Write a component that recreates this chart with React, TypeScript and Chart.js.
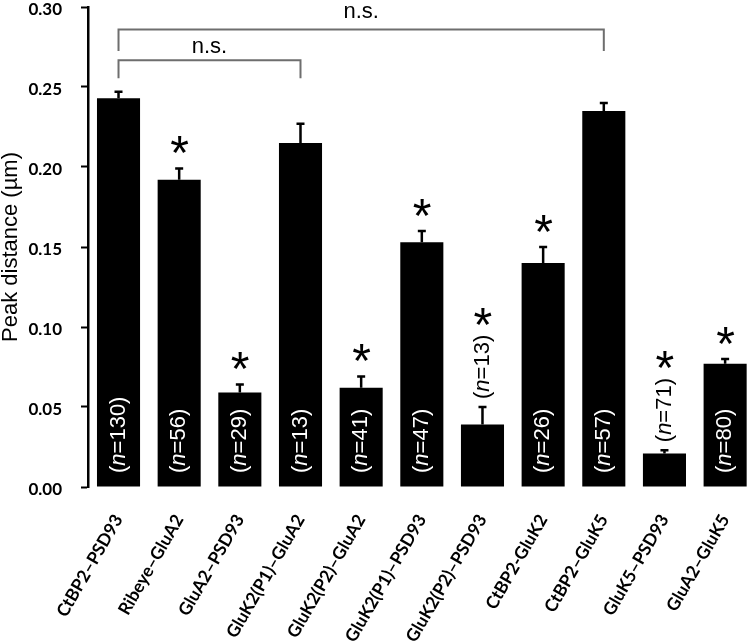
import React, { useEffect, useRef } from "react";
import { Chart, registerables } from "chart.js";

Chart.register(...registerables);

const categories = [
  "CtBP2–PSD93",
  "Ribeye–GluA2",
  "GluA2–PSD93",
  "GluK2(P1)–GluA2",
  "GluK2(P2)–GluA2",
  "GluK2(P1)–PSD93",
  "GluK2(P2)–PSD93",
  "CtBP2-GluK2",
  "CtBP2–GluK5",
  "GluK5–PSD93",
  "GluA2–GluK5",
];
const means = [0.243, 0.192, 0.059, 0.215, 0.062, 0.153, 0.039, 0.14, 0.235, 0.021, 0.077];
const errors = [0.004, 0.007, 0.005, 0.012, 0.007, 0.007, 0.011, 0.01, 0.005, 0.002, 0.003];
const sampleSizes = [130, 56, 29, 13, 41, 47, 13, 26, 57, 71, 80];
const significant = [false, true, true, false, true, true, true, true, false, true, true];
const yTicks = [0, 0.05, 0.1, 0.15, 0.2, 0.25, 0.3];
const bracketFrom = [0, 0];
const bracketTo = [8, 3];
const bracketLevel = [0.286, 0.2667];
const bracketLegEnd = [0.2725, 0.2554];
const bracketTextLevel = [0.2929, 0.2711];
const bracketText = ["n.s.", "n.s."];

const nFont = "22px 'Liberation Sans', Arial, sans-serif";
const nFontItalic = "italic 22px 'Liberation Sans', Arial, sans-serif";

const annotations = {
  id: "annotations",
  afterDatasetsDraw(chart: any) {
    const ctx = chart.ctx as CanvasRenderingContext2D;
    const xs = chart.scales.x;
    const ys = chart.scales.y;
    ctx.save();
    // error bars
    ctx.strokeStyle = "#000";
    ctx.lineWidth = 2.5;
    ctx.lineCap = "butt";
    means.forEach((m, i) => {
      const cx = xs.getPixelForValue(i);
      const y0 = ys.getPixelForValue(m);
      const y1 = ys.getPixelForValue(m + errors[i]);
      ctx.beginPath();
      ctx.moveTo(cx, y0);
      ctx.lineTo(cx, y1);
      ctx.moveTo(cx - 4, y1);
      ctx.lineTo(cx + 4, y1);
      ctx.stroke();
    });

    // n labels and asterisks
    means.forEach((m, i) => {
      const cx = xs.getPixelForValue(i);
      const base = ys.getPixelForValue(0);
      const top = ys.getPixelForValue(m);
      const errTop = ys.getPixelForValue(m + errors[i]);
      const parts: [string, string][] = [
        ["(", nFont],
        ["n", nFontItalic],
        ["=" + sampleSizes[i] + ")", nFont],
      ];
      let w = 0;
      const widths = parts.map(([t, f]) => {
        ctx.font = f;
        const ww = ctx.measureText(t).width;
        w += ww;
        return ww;
      });
      const inside = base - top >= w + 22;
      const start = inside ? base - 14 : errTop - 8;
      ctx.save();
      ctx.translate(cx, start);
      ctx.rotate(-Math.PI / 2);
      ctx.textBaseline = "middle";
      ctx.textAlign = "left";
      ctx.fillStyle = inside ? "#fff" : "#000";
      let px = 0;
      parts.forEach(([t, f], k) => {
        ctx.font = f;
        ctx.fillText(t, px, 0);
        px += widths[k];
      });
      ctx.restore();

      if (significant[i]) {
        const cy = inside ? errTop - 24 : start - w - 18;
        ctx.font = "48px 'Liberation Sans', Arial, sans-serif";
        ctx.fillStyle = "#000";
        ctx.textAlign = "left";
        ctx.textBaseline = "alphabetic";
        const mt = ctx.measureText("*");
        const x0 = cx - (mt.actualBoundingBoxRight - mt.actualBoundingBoxLeft) / 2;
        const y0 = cy + (mt.actualBoundingBoxAscent - mt.actualBoundingBoxDescent) / 2;
        ctx.fillText("*", x0, y0);
      }
    });

    // brackets
    ctx.strokeStyle = "#6e6e6e";
    ctx.lineWidth = 2;
    bracketFrom.forEach((f, k) => {
      const xa = xs.getPixelForValue(f);
      const xb = xs.getPixelForValue(bracketTo[k]);
      const yl = ys.getPixelForValue(bracketLevel[k]);
      const ye = ys.getPixelForValue(bracketLegEnd[k]);
      ctx.beginPath();
      ctx.moveTo(xa, ye);
      ctx.lineTo(xa, yl);
      ctx.lineTo(xb, yl);
      ctx.lineTo(xb, ye);
      ctx.stroke();
      ctx.font = "22px 'Liberation Sans', Arial, sans-serif";
      ctx.fillStyle = "#000";
      ctx.textAlign = "center";
      ctx.textBaseline = "alphabetic";
      ctx.fillText(bracketText[k], (xa + xb) / 2, ys.getPixelForValue(bracketTextLevel[k]));
    });
    ctx.restore();
  },
};

export default function App() {
  const ref = useRef<HTMLCanvasElement | null>(null);
  useEffect(() => {
    if (!ref.current) return;
    const xFont = { family: "Lato, 'Open Sans', sans-serif", weight: "bold" as const, size: 17.5 };
    const yFont = { family: "Lato, 'Open Sans', sans-serif", weight: "bold" as const, size: 17 };
    const chart = new Chart(ref.current, {
      type: "bar",
      data: {
        datasets: [
          {
            data: means.map((v, i) => ({ x: i, y: v })),
            backgroundColor: "#000",
            borderWidth: 0,
            barPercentage: 0.71,
            categoryPercentage: 1,
          },
        ],
      },
      options: {
        animation: false,
        responsive: false,
        layout: { padding: { top: 7, left: 0, right: 0, bottom: 0 } },
        plugins: { legend: { display: false }, tooltip: { enabled: false } },
        scales: {
          x: {
            type: "linear",
            min: -0.503,
            max: 10.41,
            offset: false,
            grid: { display: false },
            border: { display: false },
            afterBuildTicks: (s: any) => {
              s.ticks = categories.map((_, i) => ({ value: i }));
            },
            afterFit: (s: any) => {
              s.height = 156;
              s.paddingLeft = 0;
              s.paddingRight = 0;
            },
            ticks: {
              callback: (v: any) => categories[Math.round(Number(v))] ?? "",
              minRotation: 60,
              maxRotation: 60,
              autoSkip: false,
              padding: 16,
              color: "#000",
              font: xFont,
            },
          },
          y: {
            min: 0,
            max: 0.3,
            afterBuildTicks: (s: any) => {
              s.ticks = yTicks.map((v) => ({ value: v }));
            },
            afterFit: (s: any) => {
              s.width = 88;
              s.paddingTop = 0;
              s.paddingBottom = 0;
            },
            grid: {
              display: true,
              drawOnChartArea: false,
              drawTicks: true,
              tickLength: 7,
              tickWidth: 2,
              tickColor: "#000",
            },
            border: { display: true, color: "#000", width: 2.5 },
            ticks: {
              padding: 19,
              labelOffset: 3,
              color: "#000",
              font: yFont,
              callback: (v: any) => Number(v).toFixed(2),
            },
            title: {
              display: true,
              text: "Peak distance (µm)",
              color: "#000",
              font: { family: "'Liberation Sans', Arial, sans-serif", size: 22, lineHeight: 1 },
              padding: 0,
            },
          },
        },
      } as any,
      plugins: [annotations],
    });
    return () => chart.destroy();
  }, []);
  return (
    <div style={{ position: "absolute", left: 0, top: 0, width: 750, height: 643, background: "#fff" }}>
      <canvas ref={ref} width={750} height={643} />
    </div>
  );
}
